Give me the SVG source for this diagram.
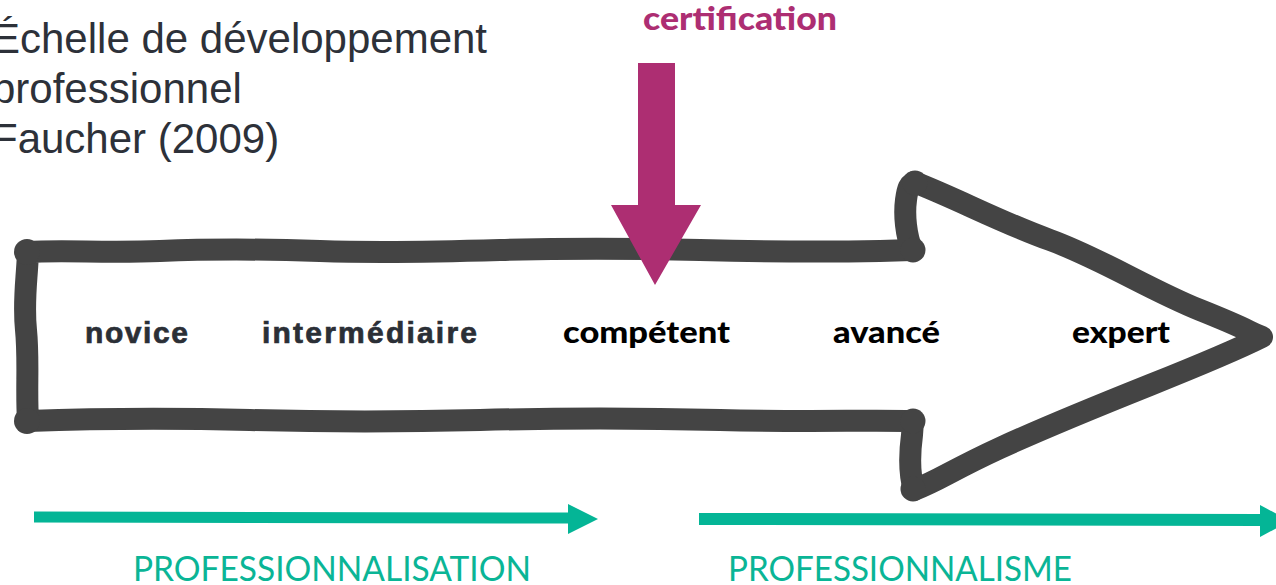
<svg xmlns="http://www.w3.org/2000/svg" width="1276" height="585" viewBox="0 0 1276 585">
  <defs>
    <style>
      .title { font-family: "Liberation Sans", Arial, sans-serif; font-size: 42px; fill: #2d3139; }
      .stage-a { font-family: "Liberation Sans", Arial, sans-serif; font-weight: bold; font-size: 30px; fill: #2b2f36; stroke: #2b2f36; stroke-width: 0.7; }
      .stage-b { font-family: Lato, "Noto Sans", sans-serif; font-weight: 900; font-size: 30px; fill: #000000; }
      .cert { font-family: Lato, "Noto Sans", sans-serif; font-weight: 900; font-size: 33px; fill: #ad2e72; }
      .phase { font-family: Lato, "Noto Sans", sans-serif; font-weight: 400; font-size: 34px; fill: #0ab596; }
      .outline { fill: none; stroke: #444444; stroke-width: 22; stroke-linejoin: round; stroke-linecap: round; }
      .blob { fill: #444444; }
      .teal { fill: #04b596; }
    </style>
  </defs>

  <rect width="1276" height="585" fill="#ffffff"/>

  <!-- title -->
  <g id="title">
    <text class="title" x="-8" y="53">Échelle de développement</text>
    <text class="title" x="-8" y="103">professionnel</text>
    <text class="title" x="-8" y="153">Faucher (2009)</text>
  </g>

  <!-- large hand-drawn arrow -->
  <g id="scale-arrow">
    <path class="outline" d="M 28 252
      C 60 250, 110 253, 160 251 S 260 249, 320 251 S 430 252, 500 250 S 620 248, 700 250 S 820 252, 880 251
      L 912 250
      C 906 235, 904 215, 906 200 S 910 185, 914 182
      C 960 200, 1000 222, 1050 240 S 1150 290, 1200 310 S 1245 330, 1262 337
      C 1240 348, 1200 365, 1150 385 S 1050 425, 1000 448 S 940 480, 914 490
      C 908 470, 910 450, 912 435 L 913 421
      C 870 420, 800 422, 720 420 S 560 418, 480 420 S 330 422, 250 420 S 110 418, 28 421
      C 26 390, 29 360, 26 330 S 27 280, 28 252 Z"/>
    <circle class="blob" cx="27" cy="252" r="13"/>
    <circle class="blob" cx="27" cy="421" r="13"/>
    <circle class="blob" cx="913" cy="250" r="12.5"/>
    <circle class="blob" cx="915" cy="183" r="12.5"/>
    <circle class="blob" cx="913" cy="421" r="12.5"/>
    <circle class="blob" cx="913" cy="489" r="12.5"/>
  </g>

  <!-- stages -->
  <g id="stage-novice"><text class="stage-a" x="85" y="343" textLength="103" lengthAdjust="spacing">novice</text></g>
  <g id="stage-intermediaire"><text class="stage-a" x="262" y="343" textLength="215" lengthAdjust="spacing">intermédiaire</text></g>
  <g id="stage-competent"><text class="stage-b" x="563" y="343" textLength="167" lengthAdjust="spacingAndGlyphs">compétent</text></g>
  <g id="stage-avance"><text class="stage-b" x="833" y="343" textLength="107" lengthAdjust="spacingAndGlyphs">avancé</text></g>
  <g id="stage-expert"><text class="stage-b" x="1072" y="343" textLength="98" lengthAdjust="spacingAndGlyphs">expert</text></g>

  <!-- certification marker -->
  <g id="certification">
    <text class="cert" x="643" y="30" textLength="194" lengthAdjust="spacingAndGlyphs">certification</text>
    <polygon fill="#ad2e72" points="638,63 675,63 675,205 701,205 655,285 611,205 638,205"/>
  </g>

  <!-- phase arrows -->
  <g id="connectors">
    <polygon class="teal" points="34,511.5 568,512.5 568,504 598,519 568,534 568,523.5 34,522.5"/>
    <polygon class="teal" points="699,513 1260,514 1260,505 1290,521 1260,537 1260,526 699,525"/>
  </g>

  <g id="phase-professionnalisation">
    <text class="phase" x="133" y="581" textLength="398" lengthAdjust="spacingAndGlyphs">PROFESSIONNALISATION</text>
  </g>
  <g id="phase-professionnalisme">
    <text class="phase" x="728" y="581" textLength="344" lengthAdjust="spacingAndGlyphs">PROFESSIONNALISME</text>
  </g>
</svg>
